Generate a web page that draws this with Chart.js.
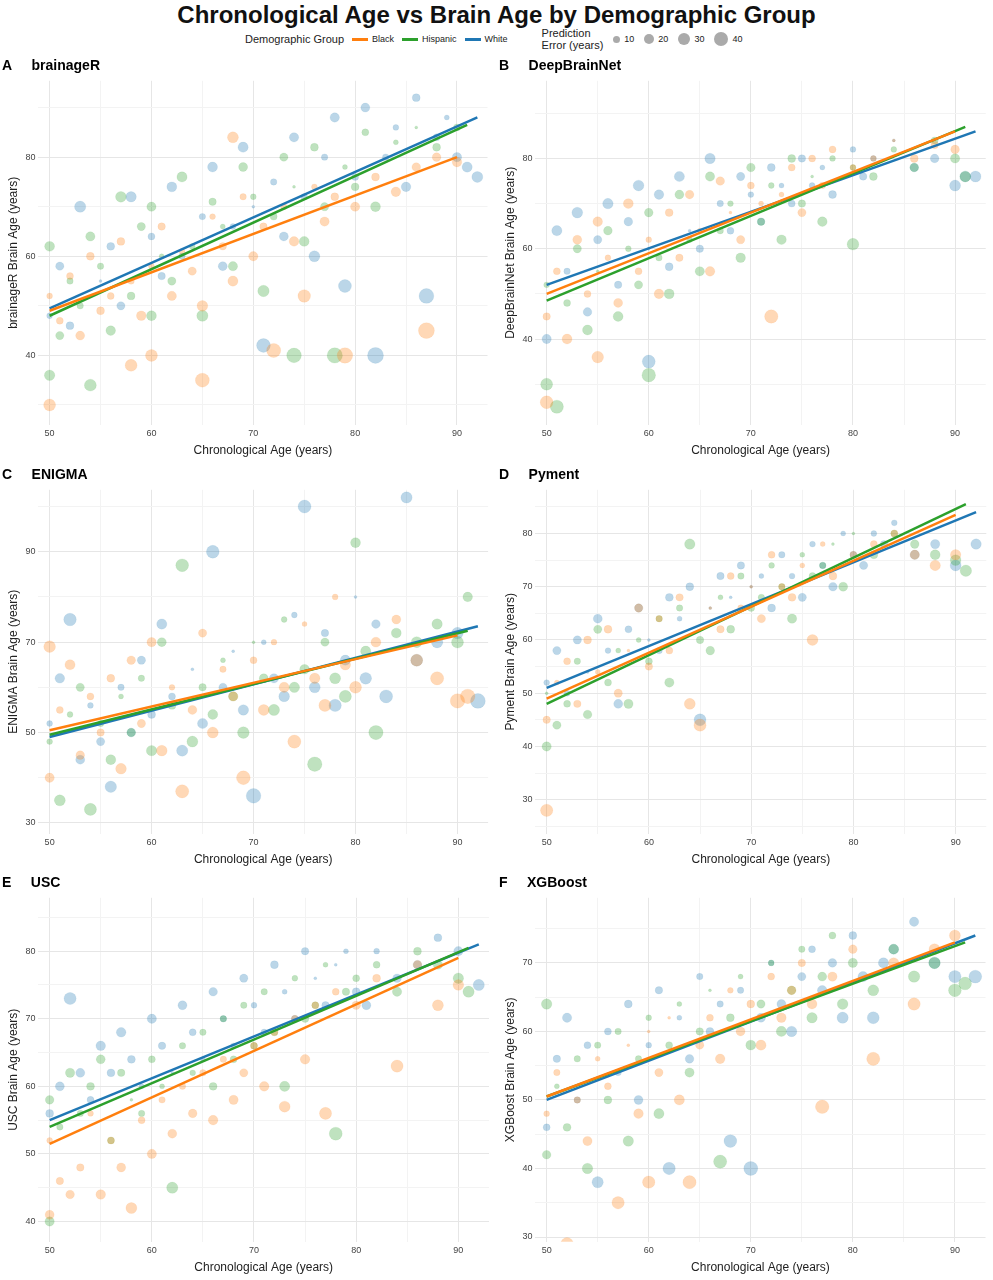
<!DOCTYPE html>
<html><head><meta charset="utf-8">
<script src="https://cdn.jsdelivr.net/npm/chart.js@4"></script>
<style>
body{margin:0;background:#fff;font-family:"Liberation Sans",Arial,sans-serif;width:993px;height:1280px;position:relative;overflow:hidden}
#title{position:absolute;top:1px;left:0;width:993px;text-align:center;font-size:24px;font-weight:bold;color:#111}
#legend{position:absolute;top:27px;left:245px;font-size:11px;color:#222;display:flex;align-items:center}
.sw{display:inline-block;width:16px;height:3px;margin:0 4px 0 8px;vertical-align:middle}
.dot{display:inline-block;border-radius:50%;background:#aaa;margin:0 4px 0 10px;vertical-align:middle}
.pan{position:absolute;width:496px;height:406px}
</style></head><body>
<div id="title">Chronological Age vs Brain Age by Demographic Group</div>
<div id="legend">
<span>Demographic Group</span>
<span class="sw" style="background:#ff7f0e"></span><span style="font-size:9px">Black</span>
<span class="sw" style="background:#2ca02c"></span><span style="font-size:9px">Hispanic</span>
<span class="sw" style="background:#1f77b4"></span><span style="font-size:9px">White</span>
<span style="margin-left:34px;line-height:12px">Prediction<br>Error (years)</span>
<span class="dot" style="width:7px;height:7px"></span><span style="font-size:9px">10</span>
<span class="dot" style="width:10px;height:10px"></span><span style="font-size:9px">20</span>
<span class="dot" style="width:12px;height:12px"></span><span style="font-size:9px">30</span>
<span class="dot" style="width:14px;height:14px"></span><span style="font-size:9px">40</span>
</div>
<div class="pan" style="left:0;top:56px"><canvas id="cA"></canvas></div>
<div class="pan" style="left:497px;top:56px"><canvas id="cB"></canvas></div>
<div class="pan" style="left:0;top:465px"><canvas id="cC"></canvas></div>
<div class="pan" style="left:497px;top:465px"><canvas id="cD"></canvas></div>
<div class="pan" style="left:0;top:873px"><canvas id="cE"></canvas></div>
<div class="pan" style="left:497px;top:873px"><canvas id="cF"></canvas></div>
<script>
const groups=["Black","Hispanic","White"];
const colors=["255,127,14","44,160,44","31,119,180"];
const lineColors=["#ff7f0e","#2ca02c","#1f77b4"];
const panelLetters=["A","B","C","D","E","F"];
const panelNames=["brainageR","DeepBrainNet","ENIGMA","Pyment","USC","XGBoost"];
const yTitles=["brainageR Brain Age (years)","DeepBrainNet Brain Age (years)","ENIGMA Brain Age (years)","Pyment Brain Age (years)","USC Brain Age (years)","XGBoost Brain Age (years)"];
const yMin=[26,21,27.6,23.6,37,29.3];
const yMax=[95.4,97.2,103.7,88.2,87.9,79.5];
const yLabelBase=[40,40,30,30,40,30];
const yLabelStep=[20,20,20,10,10,10];

const A_black=[50,30,50,52,51,47,52,56,53,44,54,60,55,49,56,52,57,63,58,38,58,55,59,48,60,40,60,58,61,66,62,52,63,61,64,57,65,35,65,50,66,68,67,62,68,84,68,55,69,72,70,60,71,66,72,41,73,70,74,63,75,52,76,74,77,67,78,72,79,40,80,70,82,76,84,73,86,78,87,45,88,80,90,79];
const A_hisp=[50,36,50,62,51,44,52,55,53,50,54,34,54,64,55,58,56,45,57,72,58,52,59,66,60,48,60,70,61,60,62,55,63,76,64,62,65,48,66,71,67,66,68,58,69,78,70,72,71,53,72,68,73,80,74,40,74,74,75,63,76,82,77,70,78,40,79,78,80,74,81,85,82,70,84,83,86,86,88,82,90,86];
const A_white=[50,48,51,58,52,46,53,70,55,55,56,62,57,50,58,72,60,64,61,56,62,74,63,60,65,68,66,78,67,58,68,66,69,82,70,70,71,42,72,75,73,64,74,84,75,72,76,60,77,80,78,88,79,54,80,76,81,90,82,40,83,80,84,86,85,74,86,92,87,52,88,84,89,88,90,80,91,78,92,76];
const B_black=[50,26,50,45,51,55,52,40,53,62,54,50,55,36,55,66,56,58,57,48,58,70,59,55,60,62,61,50,62,68,63,58,64,72,65,64,66,55,67,75,68,68,69,62,70,74,71,70,72,45,73,72,74,78,75,68,76,80,77,74,78,82,80,78,82,80,84,84,86,80,88,83,90,82];
const B_hisp=[50,30,50,52,51,25,52,48,53,60,54,42,55,55,56,64,57,45,58,60,59,52,60,32,60,68,61,58,62,50,63,72,64,62,65,55,66,76,67,64,68,70,69,58,70,78,71,66,72,74,73,62,74,80,75,70,76,76,77,66,78,80,80,61,80,78,82,76,84,82,86,78,88,84,90,80,91,76];
const B_white=[50,40,51,64,52,55,53,68,54,46,55,62,56,70,57,52,58,66,59,74,60,35,60,60,61,72,62,56,63,76,64,64,65,60,66,80,67,70,68,64,69,76,70,72,71,66,72,78,73,74,74,70,75,80,76,74,77,78,78,72,80,82,81,76,82,80,84,84,86,78,88,80,90,74,91,76,92,76];
const C_black=[50,69,50,40,51,55,52,65,53,45,54,58,55,50,56,62,57,42,58,66,59,52,60,70,61,46,62,60,63,37,64,55,65,72,66,50,67,64,68,58,69,40,70,66,71,55,72,70,73,60,74,48,75,74,76,62,77,56,78,80,79,65,80,60,82,70,84,75,86,66,88,62,90,57,91,58];
const C_hisp=[50,48,51,35,52,54,53,60,54,33,55,52,56,44,57,58,58,50,59,62,60,46,61,70,62,56,63,87,64,48,65,60,66,54,67,66,68,58,69,50,70,70,71,62,72,55,73,75,74,60,75,64,76,43,77,70,78,62,79,58,80,92,81,68,82,50,84,72,86,70,88,74,90,70,91,80];
const C_white=[50,52,51,62,52,75,53,44,54,56,55,48,56,38,57,60,58,50,59,66,60,54,61,74,62,58,63,46,64,64,65,52,66,90,67,60,68,68,69,55,70,36,71,70,72,62,73,58,74,76,75,100,76,60,77,72,78,56,79,66,80,80,81,62,82,74,83,58,85,102,86,66,88,70,90,72,92,57];
const D_black=[50,28,50,45,51,52,52,56,53,48,54,60,55,54,56,62,57,50,58,58,59,66,60,55,61,64,62,58,63,68,64,48,65,44,66,66,67,62,68,72,69,66,70,70,71,64,72,76,73,70,74,68,75,74,76,60,77,78,78,72,80,76,82,78,84,80,86,76,88,74,90,76];
const D_hisp=[50,40,50,50,51,44,52,48,53,56,54,46,55,62,56,52,57,58,58,48,59,60,60,56,61,64,62,52,63,66,64,78,65,60,66,58,67,68,68,62,69,72,70,66,71,68,72,74,73,70,74,64,75,76,76,72,77,74,78,78,79,70,80,80,82,76,84,80,86,78,88,76,90,75,91,73];
const D_white=[50,52,51,58,52,50,53,60,54,54,55,64,56,58,57,48,58,62,59,66,60,60,61,58,62,68,63,64,64,70,65,45,66,66,67,72,68,68,69,74,70,70,71,72,72,66,73,76,74,72,75,68,76,78,77,74,78,70,79,80,80,76,81,74,82,80,83,78,84,82,86,76,88,78,90,74,92,78];
const E_black=[50,41,50,52,51,46,52,44,53,48,54,56,55,44,56,52,57,48,58,42,59,55,60,50,61,58,62,53,63,60,64,56,65,62,66,55,67,64,68,58,69,62,70,66,71,60,72,68,73,57,74,70,75,64,76,72,77,56,78,74,80,72,82,76,84,63,86,78,88,72,90,75];
const E_hisp=[50,40,50,58,51,54,52,62,53,56,54,60,55,64,56,52,57,62,58,58,59,56,60,64,61,60,62,45,63,66,64,62,65,68,66,60,67,70,68,64,69,72,70,66,71,74,72,68,73,60,74,76,75,70,76,72,77,78,78,53,79,74,80,76,82,78,84,74,86,80,88,78,90,76,91,74];
const E_white=[50,56,51,60,52,73,53,62,54,58,55,66,56,62,57,68,58,64,59,60,60,70,61,66,62,62,63,72,64,68,65,64,66,74,67,70,68,66,69,76,70,72,71,68,72,78,73,74,74,70,75,80,76,76,77,72,78,78,79,80,80,74,81,72,82,80,84,76,86,78,88,82,90,80,92,75];
const F_black=[50,28,50,48,51,54,52,29,53,50,54,44,55,56,56,52,57,35,58,58,59,48,60,38,60,60,61,54,62,62,63,50,64,38,65,58,66,62,67,56,68,66,69,60,70,64,71,58,72,68,73,62,74,66,75,70,76,64,77,49,78,68,80,72,82,56,84,70,86,64,88,72,90,74];
const F_hisp=[50,42,50,64,51,52,52,46,53,56,54,40,55,58,56,50,57,60,58,44,59,56,60,62,61,48,62,58,63,64,64,54,65,60,66,66,67,41,68,62,69,68,70,58,71,64,72,70,73,60,74,66,75,72,76,62,77,68,78,74,79,64,80,70,82,66,84,72,86,68,88,70,90,66,91,67];
const F_white=[50,46,51,56,52,62,53,50,54,58,55,38,56,60,57,54,58,64,59,50,60,58,61,66,62,40,63,62,64,56,65,68,66,60,67,64,68,44,69,66,70,40,71,62,72,70,73,64,74,60,75,68,76,72,77,66,78,70,79,62,80,74,81,68,82,62,83,70,84,72,86,76,88,70,90,68,92,68];
const A_fit=[[50,49,90,80],[50,48,91,86.5],[50,49.5,92,88]];
const B_fit=[[50,50,90,86],[50,48.5,91,87],[50,52,92,86]];
const C_fit=[[50,50.5,90,71.5],[50,49.5,91,72.5],[50,49,92,73.5]];
const D_fit=[[50,49,90,83.5],[50,48,91,85.5],[50,51,92,84]];
const E_fit=[[50,51.5,90,79],[50,54,91,80.5],[50,55,92,81]];
const F_fit=[[50,50.5,90,73],[50,50.5,91,73],[50,50,92,74]];

const panelData=[[A_black,A_hisp,A_white],[B_black,B_hisp,B_white],[C_black,C_hisp,C_white],[D_black,D_hisp,D_white],[E_black,E_hisp,E_white],[F_black,F_hisp,F_white]];
const panelFits=[A_fit,B_fit,C_fit,D_fit,E_fit,F_fit];
const ids=["cA","cB","cC","cD","cE","cF"];

function toPts(arr){const p=[];for(let i=0;i<arr.length;i+=2){const e=Math.abs(arr[i+1]-arr[i]);p.push({x:arr[i],y:arr[i+1],r:1.5+Math.sqrt(e)*1.0});}return p;}

ids.forEach((id,k)=>{
  const ds=[];
  panelData[k].forEach((arr,g)=>{
    ds.push({type:'bubble',label:groups[g],data:toPts(arr),backgroundColor:`rgba(${colors[g]},0.3)`,borderColor:`rgba(${colors[g]},0.15)`,borderWidth:0.5,order:2});
  });
  panelFits[k].forEach((f,g)=>{
    ds.push({type:'line',label:groups[g]+' fit',data:[{x:f[0],y:f[1]},{x:f[2],y:f[3]}],borderColor:lineColors[g],borderWidth:2.5,pointRadius:0,fill:false,order:1});
  });
  const base=yLabelBase[k],st=yLabelStep[k];
  new Chart(document.getElementById(id),{
    type:'bubble',
    data:{datasets:ds},
    options:{responsive:true,maintainAspectRatio:false,animation:false,
      layout:{padding:{left:2,right:6,top:0,bottom:0}},
      plugins:{legend:{display:false},tooltip:{enabled:false},
        title:{display:true,text:panelLetters[k]+'     '+panelNames[k],align:'start',color:'#000',font:{size:14,weight:'bold',family:'Liberation Sans'},padding:{top:2,bottom:6}}},
      scales:{
        x:{type:'linear',min:48.9,max:93,border:{display:false},
          ticks:{stepSize:5,includeBounds:false,color:'#444',font:{size:9},callback:v=>v%10===0?v:''},
          grid:{color:c=>c.tick&&c.tick.value%10===0?'#e6e6e6':'#f3f3f3',lineWidth:1,drawTicks:false},
          title:{display:true,text:'Chronological Age (years)',color:'#222',font:{size:12},padding:{top:2}}},
        y:{type:'linear',min:yMin[k],max:yMax[k],border:{display:false},
          ticks:{stepSize:st/2,includeBounds:false,color:'#444',font:{size:9},callback:v=>((v-base)%st===0)?v:''},
          grid:{color:c=>c.tick&&(c.tick.value-base)%st===0?'#e6e6e6':'#f3f3f3',lineWidth:1,drawTicks:false},
          title:{display:true,text:yTitles[k],color:'#222',font:{size:12},padding:{bottom:2}}}
      }}
  });
});
</script>
</body></html>
